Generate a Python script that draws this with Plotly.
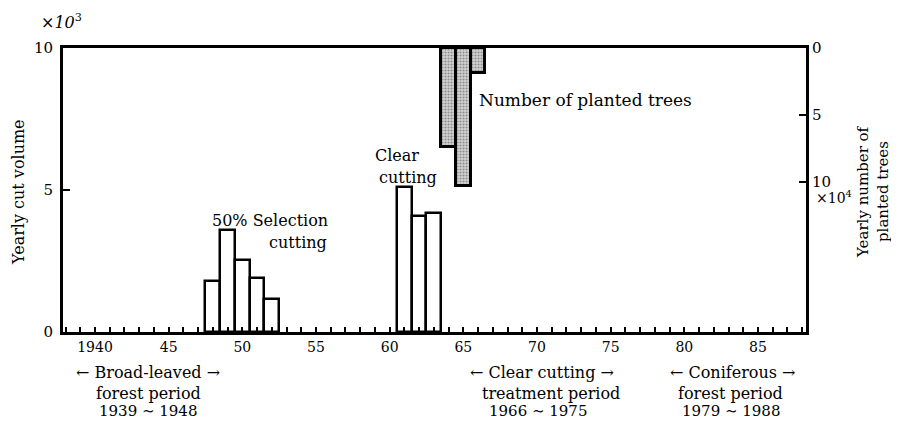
import plotly.graph_objects as go

# yearly cut volume (x10^3), left axis
cut_years = [1948, 1949, 1950, 1951, 1952, 1961, 1962, 1963]
cut_volume = [1.8, 3.6, 2.55, 1.9, 1.15, 5.1, 4.1, 4.2]

# yearly number of planted trees (x10^4), right axis (inverted)
plant_years = [1964, 1965, 1966]
plant_number = [7.4, 10.3, 1.9]

# x tick labels
x_tickvals = [1940, 1945, 1950, 1955, 1960, 1965, 1970, 1975, 1980, 1985]
x_ticktext = ["1940", "45", "50", "55", "60", "65", "70", "75", "80", "85"]

FONT = "DejaVu Serif"
OFF = 8                      # page body margin
W, H = 899 - OFF, 423 - OFF
L, R, T, B = 63, 806, 48, 332   # plot area in window pixels


def px(x):
    return (x - L) / (R - L)


def py(y):
    return (B - y) / (B - T)


fig = go.Figure()

fig.add_trace(go.Bar(
    x=cut_years, y=cut_volume, width=1,
    marker=dict(color="white", line=dict(color="black", width=2.5)),
    yaxis="y", showlegend=False,
))

fig.add_trace(go.Bar(
    x=plant_years, y=plant_number, width=1,
    marker=dict(color="#c8c8c8", line=dict(color="black", width=3),
                pattern=dict(shape=".", fgcolor="#444444", bgcolor="#d4d4d4",
                             size=3, solidity=0.4)),
    yaxis="y2", showlegend=False,
))

fig.update_layout(
    width=W, height=H,
    margin=dict(l=L - OFF, r=899 - R, t=T - OFF, b=423 - B),
    plot_bgcolor="white", paper_bgcolor="white",
    barmode="overlay", bargap=0,
    font=dict(family=FONT, size=14, color="black"),
    xaxis=dict(
        range=[1937.83, 1988.26],
        tickvals=x_tickvals, ticktext=x_ticktext,
        ticks="inside", ticklen=5, tickwidth=1.5, tickcolor="black",
        minor=dict(dtick=1, tick0=1940, ticks="inside", ticklen=5,
                   tickwidth=1.5, tickcolor="black"),
        showline=True, linewidth=3, linecolor="black", mirror=True,
        showgrid=False, zeroline=False,
        tickfont=dict(family=FONT, size=14),
    ),
    yaxis=dict(
        range=[0, 10], tickvals=[0, 5, 10],
        showline=True, linewidth=3, linecolor="black",
        showgrid=False, zeroline=False,
        ticks="inside", ticklen=7, tickwidth=2, tickcolor="black",
        ticklabelstandoff=4,
        tickfont=dict(family=FONT, size=15),
    ),
    yaxis2=dict(
        overlaying="y", side="right",
        range=[21.24, 0], tickvals=[0, 5, 10],
        showline=True, linewidth=3, linecolor="black",
        ticks="inside", ticklen=7, tickwidth=2, tickcolor="black",
        showgrid=False, zeroline=False,
        tickfont=dict(family=FONT, size=15),
    ),
)

ann = []


def add(text, x, y, xanchor="center", size=16, angle=0):
    ann.append(dict(text=text, x=px(x), y=py(y), xref="paper", yref="paper",
                    xanchor=xanchor, yanchor="middle", showarrow=False,
                    textangle=angle, font=dict(family=FONT, size=size, color="black")))


add("<i>×10</i><sup>3</sup>", 61, 21)
add("×10<sup>4</sup>", 834, 197, size=14)
add("Yearly cut volume", 18, 192, angle=-90)
add("Yearly number of", 863, 192, size=15, angle=-90)
add("planted trees", 883, 192, size=15, angle=-90)

add("50% Selection", 270, 220)
add("cutting", 329, 242, xanchor="right")
add("Clear", 397, 155)
add("cutting", 408, 177)
add("Number of planted trees", 477, 100, xanchor="left", size=17)

add("← Broad-leaved →", 148, 372)
add("forest period", 148, 393)
add("1939 ∼ 1948", 148, 411, size=15)
add("← Clear cutting →", 542, 372)
add("treatment period", 551, 393)
add("1966 ∼ 1975", 538, 411, size=15)
add("← Coniferous →", 732, 372)
add("forest period", 730, 393)
add("1979 ∼ 1988", 731, 411, size=15)

fig.update_layout(annotations=ann)

fig.write_html("out.html")
